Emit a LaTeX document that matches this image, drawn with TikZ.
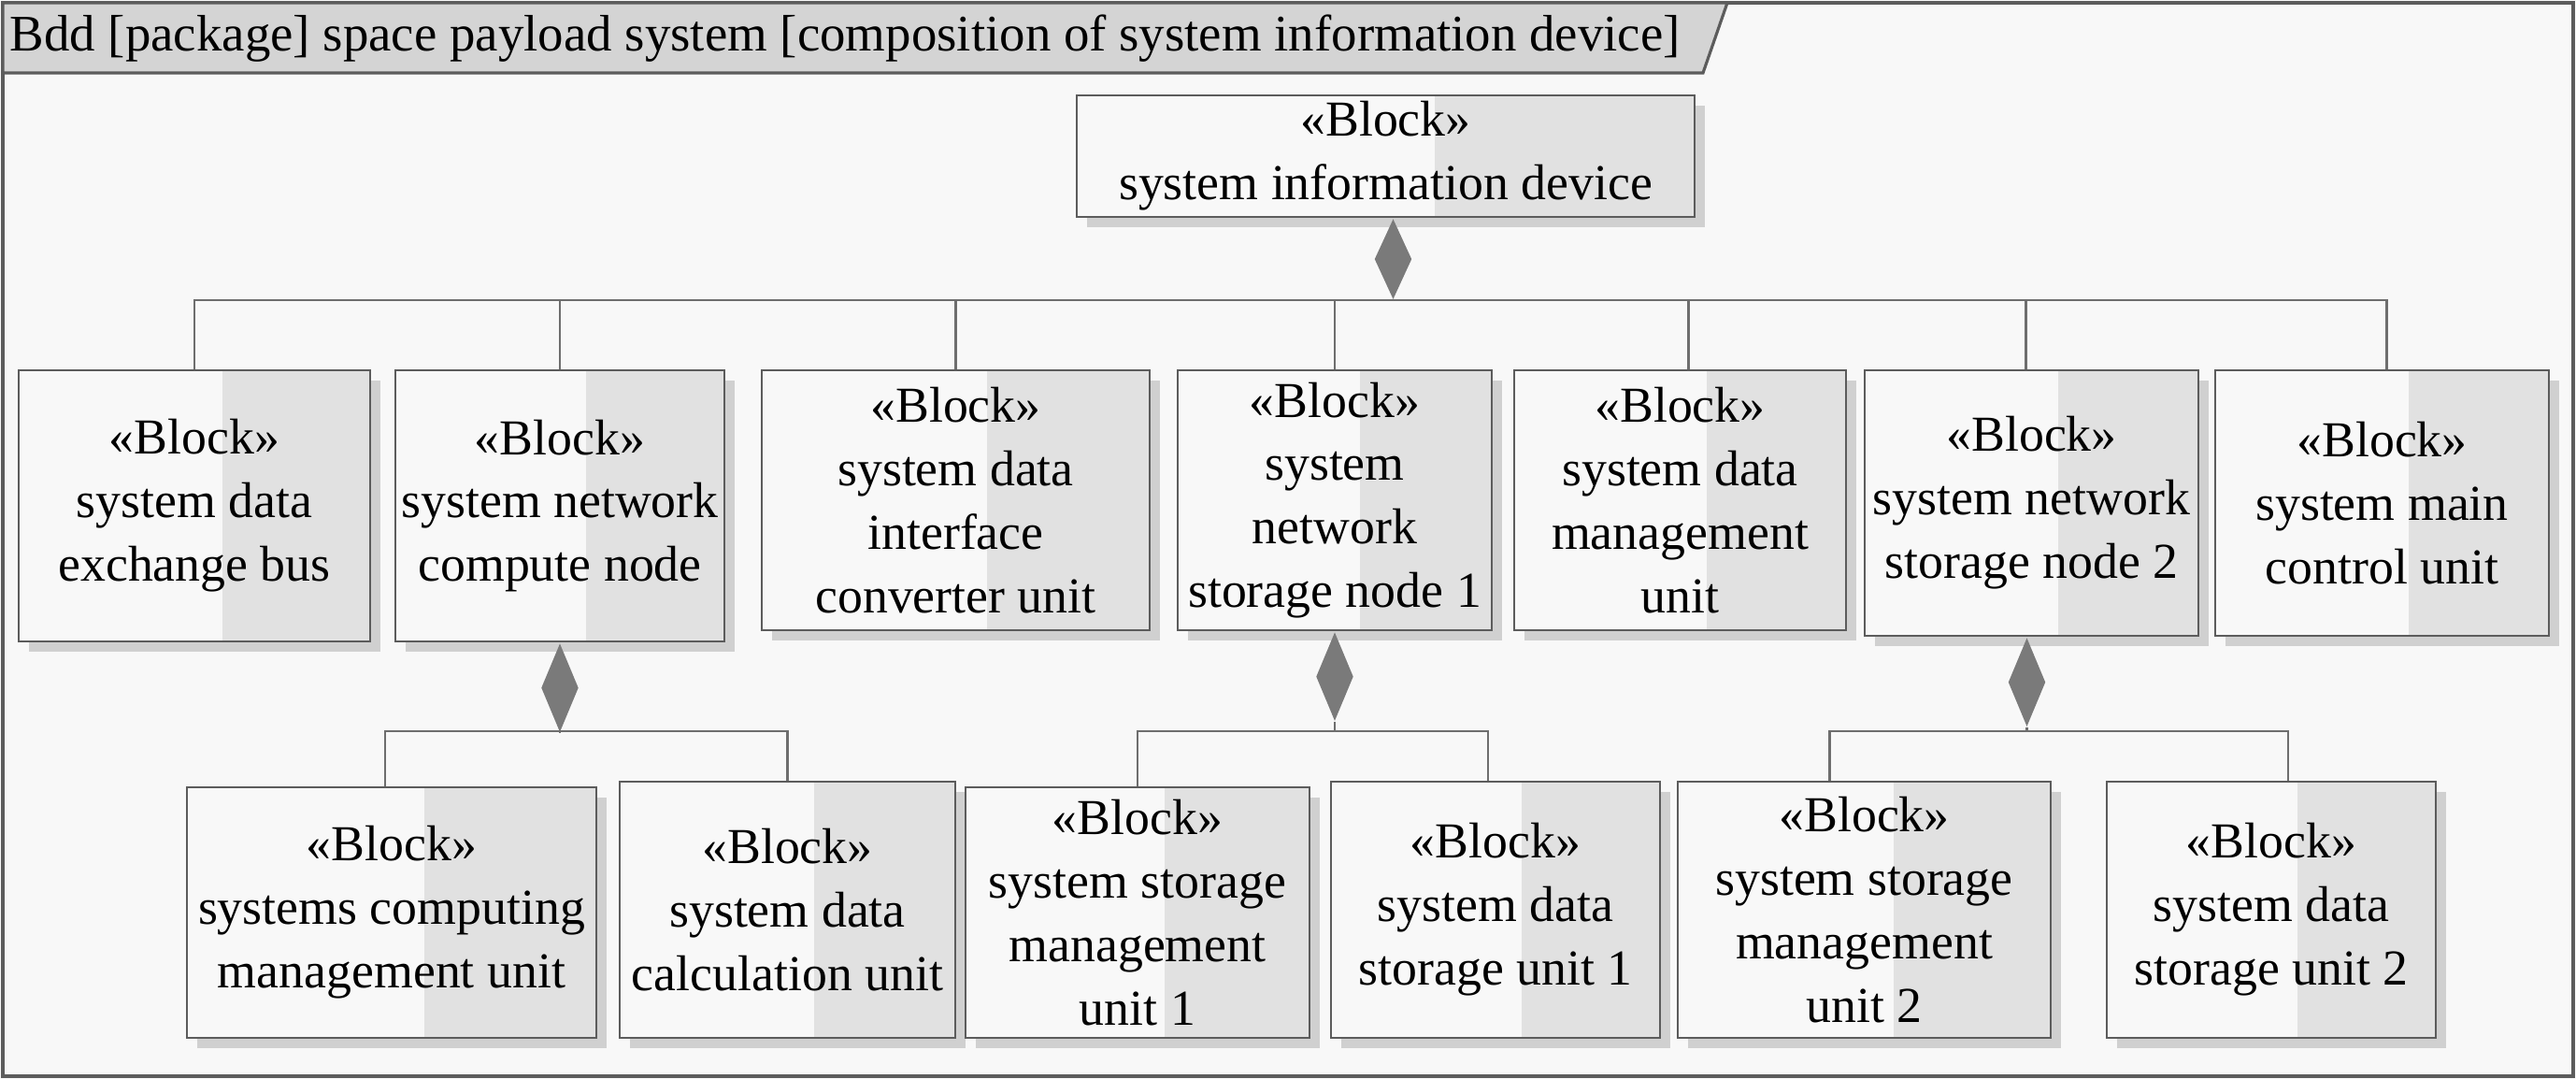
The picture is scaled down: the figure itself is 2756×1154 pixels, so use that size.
\documentclass[tikz,border=0pt]{standalone}
\usepackage{fontspec}
\setmainfont{Liberation Serif}
\usetikzlibrary{shapes.geometric,shadows,calc}
\definecolor{bg}{HTML}{F8F8F8}
\definecolor{blkR}{HTML}{E1E1E1}
\definecolor{shd}{HTML}{D0D0D0}
\definecolor{edge}{HTML}{5C5C5C}
\definecolor{conn}{HTML}{6E6E6E}
\definecolor{dia}{HTML}{7A7A7A}
\definecolor{tabc}{HTML}{D4D4D4}
\begin{document}
\begin{tikzpicture}[x=0.01cm,y=-0.01cm,
  blk/.style={draw=edge, line width=0.8pt, fill=bg, align=center, inner sep=0pt,
    font=\fontsize{15.3}{19.3}\selectfont,
    drop shadow={shadow xshift=0.11cm, shadow yshift=-0.11cm, fill=shd, opacity=1},
    path picture={\fill[blkR] ($(path picture bounding box.north west)!0.58!(path picture bounding box.north east)$) rectangle (path picture bounding box.south east);}},
  wh/.style 2 args={minimum width={#1*0.01cm}, minimum height={#2*0.01cm}},
  comp/.style={diamond, fill=dia, draw=none, inner sep=0pt, anchor=north, minimum width=0.40cm},
  conn/.style={draw=conn, line width=0.6pt}
]
\useasboundingbox (0,0) rectangle (2756,1154);
\fill[bg] (0,0) rectangle (2756,1154);
\draw[draw=edge, line width=1pt] (3,3) rectangle (2753,1151);
\draw[fill=tabc, draw=edge, line width=0.9pt] (3,3) -- (1848,3) -- (1822,78) -- (3,78) -- cycle;
\node[anchor=west, inner sep=0pt, font=\fontsize{15.6}{19}\selectfont] (title) at (10,41) {Bdd [package] space payload system [composition of system information device]};

% top block
\node[blk, wh={661}{130}] (top) at (1482.5,167) {«Block»\\system information device};
% second row
\node[blk, wh={376}{290}] (b1) at (208,541) {«Block»\\system data\\exchange bus};
\node[blk, wh={352}{290}] (b2) at (599,541) {«Block»\\system network\\compute node};
\node[blk, wh={415}{278}] (b3) at (1022.5,535) {«Block»\\system data\\interface\\converter unit};
\node[blk, wh={336}{278}] (b4) at (1428,535) {«Block»\\system\\network\\storage node 1};
\node[blk, wh={355}{278}] (b5) at (1797.5,535) {«Block»\\system data\\management\\unit};
\node[blk, wh={357}{284}] (b6) at (2173.5,538) {«Block»\\system network\\storage node 2};
\node[blk, wh={357}{284}] (b7) at (2548.5,538) {«Block»\\system main\\control unit};
% third row
\node[blk, wh={438}{268}] (c1) at (419,976) {«Block»\\systems computing\\management unit};
\node[blk, wh={359}{274}] (c2) at (842.5,973) {«Block»\\system data\\calculation unit};
\node[blk, wh={368}{268}] (c3) at (1217,976) {«Block»\\system storage\\management\\unit 1};
\node[blk, wh={352}{274}] (c4) at (1600,973) {«Block»\\system data\\storage unit 1};
\node[blk, wh={399}{274}] (c5) at (1994.5,973) {«Block»\\system storage\\management\\unit 2};
\node[blk, wh={352}{274}] (c6) at (2430,973) {«Block»\\system data\\storage unit 2};

% composition diamonds
\node[comp, minimum height=0.86cm] (dT) at ([xshift=0.08cm]top.south) {};
\node[comp, minimum height=0.95cm] (d2) at (b2.south) {};
\node[comp, minimum height=0.95cm] (d4) at (b4.south) {};
\node[comp, minimum height=0.95cm] (d6) at ([xshift=-0.05cm]b6.south) {};

\coordinate (busB) at (0,782);

% connectors top level
\draw[conn] (dT.south) -| (b1.north);
\draw[conn] (dT.south) -| (b2.north);
\draw[conn] (dT.south) -| (b3.north);
\draw[conn] (dT.south) -| (b4.north);
\draw[conn] (dT.south) -| ([xshift=0.09cm]b5.north);
\draw[conn] (dT.south) -| ([xshift=-0.06cm]b6.north);
\draw[conn] (dT.south) -| ([xshift=0.05cm]b7.north);

% connectors lower level
\draw[conn] (d2.south) -- (d2.south |- busB) -| ([xshift=-0.07cm]c1.north);
\draw[conn] (d2.south |- busB) -| (c2.north);
\draw[conn] (d4.south) -- (d4.south |- busB) -| (c3.north);
\draw[conn] (d4.south |- busB) -| ([xshift=-0.08cm]c4.north);
\draw[conn] (d6.south) -- (d6.south |- busB) -| ([xshift=-0.37cm]c5.north);
\draw[conn] (d6.south |- busB) -| ([xshift=0.18cm]c6.north);
\end{tikzpicture}
\end{document}
